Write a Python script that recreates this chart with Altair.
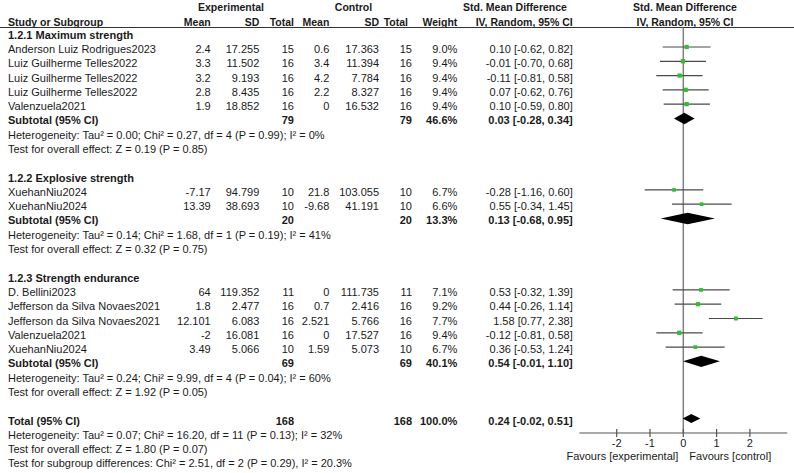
import altair as alt
import pandas as pd

# ---------------- data ----------------
group_titles = ["1.2.1 Maximum strength", "1.2.2 Explosive strength", "1.2.3 Strength endurance"]
study_names = [
    "Anderson Luiz Rodrigues2023", "Luiz Guilherme Telles2022", "Luiz Guilherme Telles2022",
    "Luiz Guilherme Telles2022", "Valenzuela2021",
    "XuehanNiu2024", "XuehanNiu2024",
    "D. Bellini2023", "Jefferson da Silva Novaes2021", "Jefferson da Silva Novaes2021",
    "Valenzuela2021", "XuehanNiu2024",
]
study_group = [0, 0, 0, 0, 0, 1, 1, 2, 2, 2, 2, 2]
exp_mean = ["2.4", "3.3", "3.2", "2.8", "1.9", "-7.17", "13.39", "64", "1.8", "12.101", "-2", "3.49"]
exp_sd = ["17.255", "11.502", "9.193", "8.435", "18.852", "94.799", "38.693", "119.352", "2.477", "6.083", "16.081", "5.066"]
exp_total = [15, 16, 16, 16, 16, 10, 10, 11, 16, 16, 16, 10]
ctl_mean = ["0.6", "3.4", "4.2", "2.2", "0", "21.8", "-9.68", "0", "0.7", "2.521", "0", "1.59"]
ctl_sd = ["17.363", "11.394", "7.784", "8.327", "16.532", "103.055", "41.191", "111.735", "2.416", "5.766", "17.527", "5.073"]
ctl_total = [15, 16, 16, 16, 16, 10, 10, 11, 16, 16, 16, 10]
weight = [9.0, 9.4, 9.4, 9.4, 9.4, 6.7, 6.6, 7.1, 9.2, 7.7, 9.4, 6.7]
smd = [0.10, -0.01, -0.11, 0.07, 0.10, -0.28, 0.55, 0.53, 0.44, 1.58, -0.12, 0.36]
ci_lo = [-0.62, -0.70, -0.81, -0.62, -0.59, -1.16, -0.34, -0.32, -0.26, 0.77, -0.81, -0.53]
ci_hi = [0.82, 0.68, 0.58, 0.76, 0.80, 0.60, 1.45, 1.39, 1.14, 2.38, 0.58, 1.24]

sub_exp_total = [79, 20, 69]
sub_ctl_total = [79, 20, 69]
sub_weight = [46.6, 13.3, 40.1]
sub_smd = [0.03, 0.13, 0.54]
sub_lo = [-0.28, -0.68, -0.01]
sub_hi = [0.34, 0.95, 1.10]
sub_het = [
    "Heterogeneity: Tau\u00b2 = 0.00; Chi\u00b2 = 0.27, df = 4 (P = 0.99); I\u00b2 = 0%",
    "Heterogeneity: Tau\u00b2 = 0.14; Chi\u00b2 = 1.68, df = 1 (P = 0.19); I\u00b2 = 41%",
    "Heterogeneity: Tau\u00b2 = 0.24; Chi\u00b2 = 9.99, df = 4 (P = 0.04); I\u00b2 = 60%",
]
sub_test = [
    "Test for overall effect: Z = 0.19 (P = 0.85)",
    "Test for overall effect: Z = 0.32 (P = 0.75)",
    "Test for overall effect: Z = 1.92 (P = 0.05)",
]
total_exp = 168
total_ctl = 168
total_weight = 100.0
total_smd = 0.24
total_lo = -0.02
total_hi = 0.51
total_notes = [
    "Heterogeneity: Tau\u00b2 = 0.07; Chi\u00b2 = 16.20, df = 11 (P = 0.13); I\u00b2 = 32%",
    "Test for overall effect: Z = 1.80 (P = 0.07)",
    "Test for subgroup differences: Chi\u00b2 = 2.51, df = 2 (P = 0.29), I\u00b2 = 20.3%",
]
axis_ticks = [-2, -1, 0, 1, 2]
favours = ["Favours [experimental]", "Favours [control]"]
header_top = ["Experimental", "Control", "Std. Mean Difference", "Std. Mean Difference"]
header_cols = ["Study or Subgroup", "Mean", "SD", "Total", "Mean", "SD", "Total", "Weight",
               "IV, Random, 95% CI", "IV, Random, 95% CI"]

# ---------------- layout constants ----------------
FONT = "Liberation Sans, Arial, sans-serif"
TXT = "#1a1a1a"
COLX = {"name": 8, "em": 210.7, "esd": 259.3, "et": 294, "cm": 329.3, "csd": 379,
        "ct": 412, "w": 457.3, "ci": 572.7}
XDOM = [-3.12, 3.12]
XS = alt.Scale(domain=XDOM, range=[579.4, 787.2])
YS = alt.Scale(domain=[0, 30], range=[35.7, 464.4])
GOFF = -3  # graphics sit slightly above text centre


def fmt_ci(e, lo, hi):
    return f"{e:.2f} [{lo:.2f}, {hi:.2f}]"


# ---------------- build tables ----------------
cells = []
forest = []
diamonds = []
row = 0
for g, title in enumerate(group_titles):
    cells.append(dict(row=row, col="name", text=title, bold=True))
    idx = [i for i, s in enumerate(study_group) if s == g]
    for i in idx:
        row += 1
        cells += [
            dict(row=row, col="name", text=study_names[i], bold=False),
            dict(row=row, col="em", text=exp_mean[i], bold=False),
            dict(row=row, col="esd", text=exp_sd[i], bold=False),
            dict(row=row, col="et", text=str(exp_total[i]), bold=False),
            dict(row=row, col="cm", text=ctl_mean[i], bold=False),
            dict(row=row, col="csd", text=ctl_sd[i], bold=False),
            dict(row=row, col="ct", text=str(ctl_total[i]), bold=False),
            dict(row=row, col="w", text=f"{weight[i]:.1f}%", bold=False),
            dict(row=row, col="ci", text=fmt_ci(smd[i], ci_lo[i], ci_hi[i]), bold=False),
        ]
        forest.append(dict(row=row, est=smd[i], lo=ci_lo[i], hi=ci_hi[i], w=weight[i]))
    row += 1
    cells += [
        dict(row=row, col="name", text="Subtotal (95% CI)", bold=True),
        dict(row=row, col="et", text=str(sub_exp_total[g]), bold=True),
        dict(row=row, col="ct", text=str(sub_ctl_total[g]), bold=True),
        dict(row=row, col="w", text=f"{sub_weight[g]:.1f}%", bold=True),
        dict(row=row, col="ci", text=fmt_ci(sub_smd[g], sub_lo[g], sub_hi[g]), bold=True),
    ]
    h = 0.4
    diamonds += [
        dict(id=f"g{g}", x=sub_lo[g], y=row, y2=row),
        dict(id=f"g{g}", x=sub_smd[g], y=row - h, y2=row + h),
        dict(id=f"g{g}", x=sub_hi[g], y=row, y2=row),
    ]
    row += 1
    cells.append(dict(row=row, col="name", text=sub_het[g], bold=False))
    row += 1
    cells.append(dict(row=row, col="name", text=sub_test[g], bold=False))
    row += 2

cells += [
    dict(row=row, col="name", text="Total (95% CI)", bold=True),
    dict(row=row, col="et", text=str(total_exp), bold=True),
    dict(row=row, col="ct", text=str(total_ctl), bold=True),
    dict(row=row, col="w", text=f"{total_weight:.1f}%", bold=True),
    dict(row=row, col="ci", text=fmt_ci(total_smd, total_lo, total_hi), bold=True),
]
h = 0.32
diamonds += [
    dict(id="tot", x=total_lo, y=row, y2=row),
    dict(id="tot", x=total_smd, y=row - h, y2=row + h),
    dict(id="tot", x=total_hi, y=row, y2=row),
]
for note in total_notes:
    row += 1
    cells.append(dict(row=row, col="name", text=note, bold=False))

cells_df = pd.DataFrame(cells)
forest_df = pd.DataFrame(forest)
diam_df = pd.DataFrame(diamonds)

layers = []

# table text
for col, xpos in COLX.items():
    for bold in (False, True):
        sub = cells_df[(cells_df.col == col) & (cells_df.bold == bold)]
        if sub.empty:
            continue
        layers.append(
            alt.Chart(sub).mark_text(
                align="left" if col == "name" else "right", baseline="middle",
                font=FONT, fontSize=11, fontWeight="bold" if bold else "normal", color=TXT,
            ).encode(x=alt.value(xpos), y=alt.Y("row:Q", scale=YS, axis=None), text="text:N")
        )

# headers
top_x = [231, 353.5, 515, 685]
for t, xp in zip(header_top, top_x):
    layers.append(
        alt.Chart(pd.DataFrame({"t": [t]})).mark_text(
            align="center", baseline="middle", font=FONT, fontSize=10.5, fontWeight="bold", color=TXT
        ).encode(x=alt.value(xp), y=alt.value(7.5), text="t:N")
    )
col_x = [8, 210.7, 259.3, 294, 329.3, 379, 408, 457.3, 572.7, 685]
col_al = ["left", "right", "right", "right", "right", "right", "right", "right", "right", "center"]
for t, xp, al in zip(header_cols, col_x, col_al):
    layers.append(
        alt.Chart(pd.DataFrame({"t": [t]})).mark_text(
            align=al, baseline="middle", font=FONT, fontSize=10.5, fontWeight="bold", color=TXT
        ).encode(x=alt.value(xp), y=alt.value(22.8), text="t:N")
    )

# header underline
layers.append(
    alt.Chart(pd.DataFrame({"a": [0]})).mark_rule(color="#333333", strokeWidth=1).encode(
        x=alt.value(0), x2=alt.value(794), y=alt.value(27.5)
    )
)

# zero line
layers.append(
    alt.Chart(pd.DataFrame({"v": [0]})).mark_rule(color="#808080", strokeWidth=1.5).encode(
        x=alt.X("v:Q", scale=XS, axis=None), y=alt.value(27.5), y2=alt.value(433)
    )
)

# CI lines
layers.append(
    alt.Chart(forest_df).mark_rule(color="#4a4a4a", strokeWidth=1.2, yOffset=GOFF).encode(
        x=alt.X("lo:Q", scale=XS, axis=None), x2="hi:Q", y=alt.Y("row:Q", scale=YS, axis=None)
    )
)
# squares
layers.append(
    alt.Chart(forest_df).mark_square(color="#2fbf2f", opacity=1, yOffset=GOFF).encode(
        x=alt.X("est:Q", scale=XS, axis=None), y=alt.Y("row:Q", scale=YS, axis=None),
        size=alt.Size("w:Q", scale=alt.Scale(domain=[0, 10], range=[0, 20]), legend=None),
    )
)
# diamonds
layers.append(
    alt.Chart(diam_df).mark_area(color="black", yOffset=GOFF, y2Offset=GOFF, orient="vertical").encode(
        x=alt.X("x:Q", scale=XS, axis=None), y=alt.Y("y:Q", scale=YS, axis=None), y2="y2:Q",
        detail="id:N",
    )
)

# axis
layers.append(
    alt.Chart(pd.DataFrame({"a": [XDOM[0]], "b": [XDOM[1]]})).mark_rule(color="#555555", strokeWidth=1.2).encode(
        x=alt.X("a:Q", scale=XS, axis=None), x2="b:Q", y=alt.value(433)
    )
)
tick_df = pd.DataFrame({"t": axis_ticks, "lab": [str(v) for v in axis_ticks]})
layers.append(
    alt.Chart(tick_df).mark_rule(color="#555555", strokeWidth=1.2).encode(
        x=alt.X("t:Q", scale=XS, axis=None), y=alt.value(429), y2=alt.value(437)
    )
)
layers.append(
    alt.Chart(tick_df).mark_text(align="center", baseline="middle", font=FONT, fontSize=11, color=TXT).encode(
        x=alt.X("t:Q", scale=XS, axis=None), y=alt.value(444), text="lab:N"
    )
)
fav_df = pd.DataFrame({"v": [0], "l": [favours[0]], "r": [favours[1]]})
layers.append(
    alt.Chart(fav_df).mark_text(align="right", baseline="middle", font=FONT, fontSize=11, color=TXT, dx=-5).encode(
        x=alt.X("v:Q", scale=XS, axis=None), y=alt.value(457), text="l:N"
    )
)
layers.append(
    alt.Chart(fav_df).mark_text(align="left", baseline="middle", font=FONT, fontSize=11, color=TXT, dx=6).encode(
        x=alt.X("v:Q", scale=XS, axis=None), y=alt.value(457), text="r:N"
    )
)

chart = alt.layer(*layers).properties(
    width=794, height=473, padding=0, autosize="none"
).configure_view(stroke=None)

chart.save("out.html", embed_options={"renderer": "svg", "actions": False})
